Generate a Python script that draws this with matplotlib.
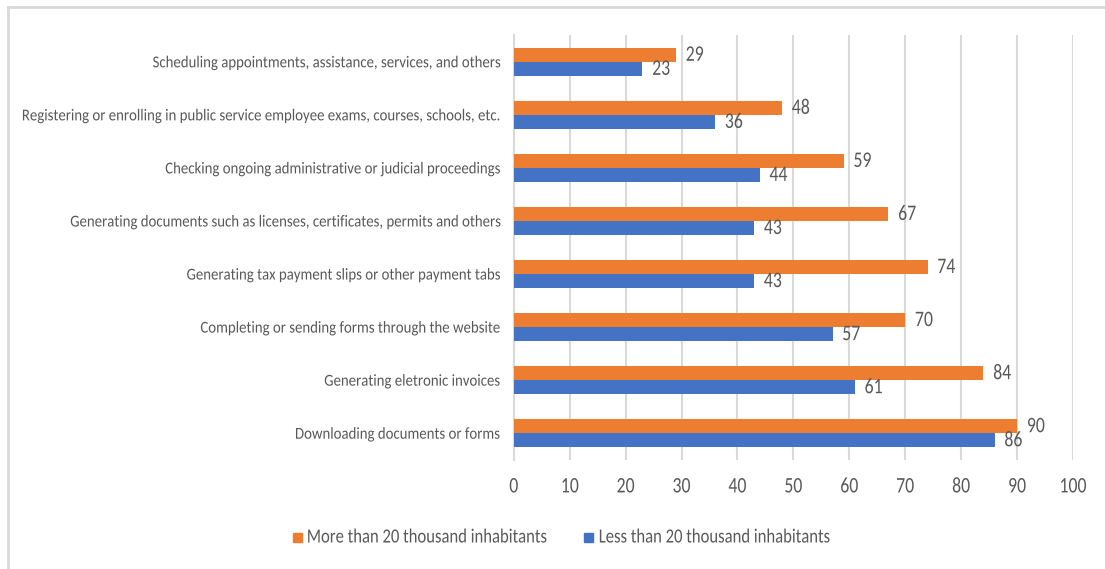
import matplotlib.pyplot as plt
from matplotlib import font_manager, patheffects
from matplotlib.patches import Rectangle
from matplotlib.transforms import Affine2D
import numpy as np

categories = [
    "Scheduling appointments, assistance, services, and others",
    "Registering or enrolling in public service employee exams, courses, schools, etc.",
    "Checking ongoing administrative or judicial proceedings",
    "Generating documents such as licenses, certificates, permits and others",
    "Generating tax payment slips or other payment tabs",
    "Completing or sending forms through the website",
    "Generating eletronic invoices",
    "Downloading documents or forms",
]
more_than_20k = [29, 48, 59, 67, 74, 70, 84, 90]
less_than_20k = [23, 36, 44, 43, 43, 57, 61, 86]
x_ticks = [0, 10, 20, 30, 40, 50, 60, 70, 80, 90, 100]
series_names = ["More than 20 thousand inhabitants", "Less than 20 thousand inhabitants"]

ORANGE = "#ED7D31"
BLUE = "#4472C4"
TEXT = "#595959"
GRID = "#D9D9D9"

# pick a Calibri-like face
names = {f.name for f in font_manager.fontManager.ttflist}
for cand in ["Carlito", "Archivo Narrow", "Asap Condensed", "Roboto"]:
    if cand in names:
        break
plt.rcParams["font.family"] = [cand, "DejaVu Sans"]


class Squeeze(patheffects.AbstractPathEffect):
    """Draw text narrower than the font, keeping one edge fixed."""

    def __init__(self, sx, anchor="left"):
        super().__init__()
        self.sx = sx
        self.anchor = anchor

    def draw_path(self, renderer, gc, tpath, affine, rgbFace=None):
        ext = tpath.get_extents(affine)
        x0 = {"left": ext.x0, "right": ext.x1, "center": (ext.x0 + ext.x1) / 2}[self.anchor]
        t = affine + Affine2D().translate(-x0, 0).scale(self.sx, 1).translate(x0, 0)
        renderer.draw_path(gc, tpath, t, rgbFace)


DIGIT_SX = 0.8

fig = plt.figure(figsize=(11.05, 5.69), dpi=100)
ax = fig.add_axes([0.465, 0.192, 0.506, 0.746])

y = np.arange(len(categories))
h = 0.265
ax.barh(y - h / 2, more_than_20k, height=h, color=ORANGE, zorder=3)
ax.barh(y + h / 2, less_than_20k, height=h, color=BLUE, zorder=3)

for offs, vals in [(-h / 2, more_than_20k), (h / 2, less_than_20k)]:
    for yi, v in zip(y, vals):
        ax.text(v + 1.7, yi + offs, str(v), va="center", ha="left", fontsize=16, color=TEXT,
                path_effects=[Squeeze(DIGIT_SX, "left")])

ax.set_xlim(0, 100)
ax.set_ylim(len(categories) - 0.5, -0.5)
ax.set_xticks(x_ticks)
ax.set_yticks(y)
ax.set_yticklabels(categories)
ax.tick_params(axis="both", length=0, colors=TEXT)
ax.tick_params(axis="x", pad=12, labelsize=16)
ax.tick_params(axis="y", pad=10, labelsize=12)
ax.grid(axis="x", color=GRID, linewidth=1.5, zorder=0)
for side in ["top", "right", "bottom"]:
    ax.spines[side].set_visible(False)
ax.spines["left"].set_color(GRID)
ax.spines["left"].set_linewidth(1.5)

for t in ax.get_xticklabels():
    t.set_path_effects([Squeeze(DIGIT_SX, "center")])

fig.canvas.draw()
r = fig.canvas.get_renderer()
widest = max(t.get_window_extent(r).width for t in ax.get_yticklabels())
cat_sx = 478 / widest
for t in ax.get_yticklabels():
    t.set_path_effects([Squeeze(cat_sx, "right")])

# legend along the bottom: colour square followed by series name
W, H = fig.bbox.width, fig.bbox.height
leg_y = 537
sq = 9
legend_texts = []
for name in series_names:
    t = fig.text(0, 1 - leg_y / H, name, fontsize=14.5, color=TEXT, va="center", ha="left")
    legend_texts.append(t)
fig.canvas.draw()
widths = [t.get_window_extent(r).width for t in legend_texts]
leg_sx = 232 / widths[1]
total = 2 * (sq + 5) + leg_sx * sum(widths) + 37
x = 561.5 - total / 2
for t, w, color in zip(legend_texts, widths, [ORANGE, BLUE]):
    fig.add_artist(Rectangle((x / W, 1 - (leg_y + sq / 2) / H), sq / W, sq / H,
                             color=color, transform=fig.transFigure))
    x += sq + 5
    t.set_x(x / W)
    t.set_path_effects([Squeeze(leg_sx, "left")])
    x += w * leg_sx + 37

# thin frame lines along the top and left edges
fig.add_artist(plt.Line2D([8 / W, 1], [1 - 7 / H, 1 - 7 / H], color=GRID, linewidth=2, transform=fig.transFigure))
fig.add_artist(plt.Line2D([8 / W, 8 / W], [0, 1 - 7 / H], color=GRID, linewidth=2, transform=fig.transFigure))

fig.savefig("out.png", dpi=100)
